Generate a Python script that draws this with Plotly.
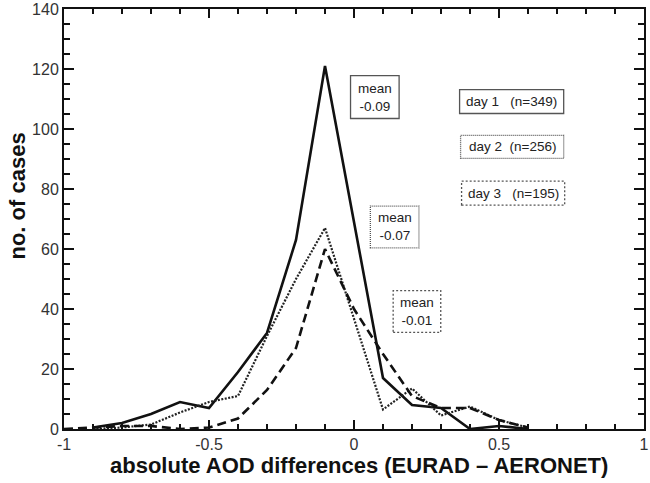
import plotly.graph_objects as go

# ---- data ----
bins_day1 = [-0.9, -0.8, -0.7, -0.6, -0.5, -0.4, -0.3, -0.2, -0.1, 0.0, 0.1, 0.2, 0.3, 0.4, 0.5, 0.6]
cases_day1 = [0.5, 2, 5, 9, 7, 19, 32, 63, 121, 69, 17, 8, 7, 0, 1, 0]

bins_day2 = [-0.9, -0.8, -0.7, -0.6, -0.5, -0.4, -0.3, -0.2, -0.1, 0.0, 0.1, 0.2, 0.3, 0.4, 0.5, 0.6]
cases_day2 = [0, 0.5, 1.5, 5.5, 9, 11, 31, 50, 67, 37, 6.5, 13.5, 4.5, 7.5, 3, 0.5]

bins_day3 = [-1.0, -0.9, -0.8, -0.7, -0.6, -0.5, -0.4, -0.3, -0.2, -0.1, 0.0, 0.1, 0.2, 0.3, 0.4, 0.5, 0.6]
cases_day3 = [0, 0.5, 1, 1, 0, 0.5, 3.5, 13, 27, 60, 40, 25, 11, 7, 7, 3, 0.5]

x_tickvals = [-1, -0.5, 0, 0.5, 1]
x_ticktext = ["-1", "-0.5", "0", "0.5", "1"]
y_tickvals = [0, 20, 40, 60, 80, 100, 120, 140]

mean_labels = ["mean<br>-0.09", "mean<br>-0.07", "mean<br>-0.01"]
day_labels = ["day 1\u00a0\u00a0\u00a0(n=349)", "day 2\u00a0\u00a0(n=256)", "day 3\u00a0\u00a0\u00a0(n=195)"]

FONT = "Liberation Sans, Arial, sans-serif"

fig = go.Figure()
fig.add_trace(go.Scatter(x=bins_day1, y=cases_day1, mode="lines",
                         line=dict(color="#111", width=2.6, dash="solid"), name="day 1"))
fig.add_trace(go.Scatter(x=bins_day2, y=cases_day2, mode="lines",
                         line=dict(color="#222", width=2.2, dash="2px,1.5px"), name="day 2"))
fig.add_trace(go.Scatter(x=bins_day3, y=cases_day3, mode="lines",
                         line=dict(color="#111", width=2.6, dash="9px,5px"), name="day 3"))

L, R, T, B = 64, 649, 7, 429
W, H = 650, 483


def px(xp):
    return (xp - L) / (R - L)


def py(yp):
    return (B - yp) / (B - T)


# boxes: (x0, y0, x1, y1, dash, text)
boxes = [
    (353, 74, 402, 117, "solid", mean_labels[0]),
    (373, 205, 422, 247, "1px,1px", mean_labels[1]),
    (396, 290, 444, 332, "2px,2px", mean_labels[2]),
    (463, 88, 568, 112, "solid", day_labels[0]),
    (464, 134, 568, 157, "1px,1px", day_labels[1]),
    (465, 180, 569, 204, "2px,2px", day_labels[2]),
]
for x0, y0, x1, y1, dash, text in boxes:
    fig.add_shape(type="rect", xref="paper", yref="paper",
                  x0=px(x0), x1=px(x1), y0=py(y1), y1=py(y0),
                  line=dict(color="#555", width=1.3, dash=dash),
                  fillcolor="white", layer="above")
    fig.add_annotation(xref="paper", yref="paper",
                       x=px((x0 + x1) / 2), y=py((y0 + y1) / 2),
                       xanchor="center", yanchor="middle",
                       text=text, showarrow=False, align="center",
                       font=dict(family=FONT, size=13.5, color="#222"))

# axis titles as annotations (placed as in the original)
fig.add_annotation(xref="paper", yref="paper", x=px(17), y=py(195),
                   xanchor="center", yanchor="middle", textangle=-90,
                   text="<b>no. of cases</b>", showarrow=False,
                   font=dict(family=FONT, size=22, color="#111"))
fig.add_annotation(xref="paper", yref="paper", x=px(362), y=py(466),
                   xanchor="center", yanchor="middle",
                   text="<b>absolute AOD differences (EURAD – AERONET)</b>", showarrow=False,
                   font=dict(family=FONT, size=22, color="#111"))

axis_common = dict(
    showline=True, linecolor="#111", linewidth=2, mirror="ticks",
    ticks="inside", tickcolor="#111", tickwidth=1.5,
    showgrid=False, zeroline=False, ticklabeloverflow="allow",
    tickfont=dict(family=FONT, size=16, color="#333"),
)

fig.update_xaxes(range=[-1, 1], tickvals=x_tickvals, ticktext=x_ticktext, ticklen=9,
                 minor=dict(ticks="inside", dtick=0.1, ticklen=5, tickcolor="#111", tickwidth=1.5),
                 **axis_common)
fig.update_yaxes(range=[0, 140], tickvals=y_tickvals, ticklen=10,
                 minor=dict(ticks="inside", dtick=5, ticklen=6, tickcolor="#111", tickwidth=1.5),
                 **axis_common)

fig.update_layout(width=W, height=H, showlegend=False,
                  margin=dict(l=L, r=W - R, t=T, b=H - B),
                  plot_bgcolor="white", paper_bgcolor="white")

fig.write_html("out.html")
